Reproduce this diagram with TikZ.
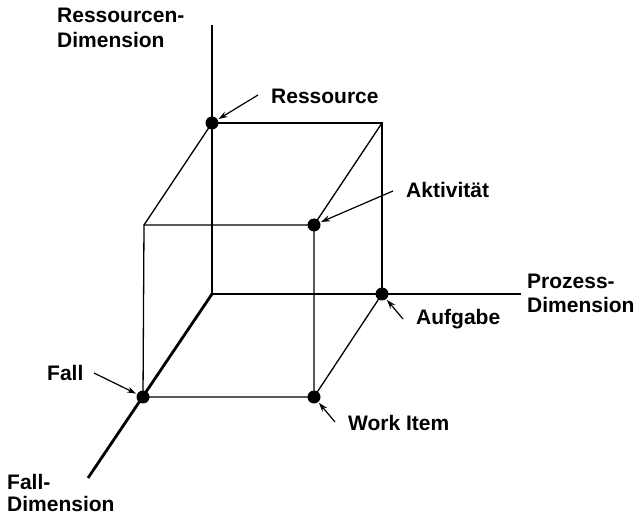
\documentclass[tikz,border=0pt]{standalone}
\usepackage{fontspec}
\setmainfont{Liberation Sans}
\usetikzlibrary{arrows.meta}
\begin{document}
\begin{tikzpicture}[x=1pt,y=-1pt,
  axis/.style={line width=2.8pt},
  edge/.style={line width=1.3pt},
  pointer/.style={line width=1.2pt,-{Stealth[length=9pt,width=6pt]},shorten >=1pt},
  dot/.style={circle,fill=black,inner sep=0pt,minimum size=13pt},
  lbl/.style={anchor=base west,inner sep=0pt,font=\bfseries\fontsize{21}{25}\selectfont}]
\useasboundingbox (0,0) rectangle (640,518);

% axis end points and cube corners
\coordinate (O) at (212,294);
\coordinate (ytop) at (212,25);
\coordinate (xend) at (521,294);
\coordinate (zend) at (88,478);
\coordinate (btr) at (382,123);
\coordinate (ftl) at (144,225);

% cube edges
\draw[edge] (212,123) -- (btr) -- (382,294);
\draw[edge] (212,123) -- (ftl);
\draw[edge] (btr) -- (314,225);
\draw[edge] (ftl) -- (314,225) -- (314,397) -- (143,397) -- cycle;
\draw[edge] (382,294) -- (314,397);

% axes
\draw[axis] (O) -- (ytop);
\draw[axis] (O) -- (xend);
\draw[axis] (O) -- (zend);

% marked points
\node[dot] (ressource) at (212,123) {};
\node[dot] (aktiv) at (314,225) {};
\node[dot] (aufgabe) at (382,294) {};
\node[dot] (fall) at (143,397) {};
\node[dot] (workitem) at (314,397) {};

% axis titles
\node[lbl] (rd1) at (57,23) {Ressourcen-};
\node[lbl] (rd2) at (57,48) {Dimension};
\node[lbl] (pd1) at (527,289) {Prozess-};
\node[lbl] (pd2) at (527,313) {Dimension};
\node[lbl] (fd1) at (7,489) {Fall-};
\node[lbl] (fd2) at (7,511) {Dimension};

% point labels
\node[lbl] (tRes) at (271,104) {Ressource};
\node[lbl] (tAkt) at (406,198) {Aktivität};
\node[lbl] (tAuf) at (416,325) {Aufgabe};
\node[lbl] (tFall) at (47,381) {Fall};
\node[lbl] (tWork) at (348,431) {Work Item};

% pointer tails
\coordinate (pRes) at (258,95);
\coordinate (pAkt) at (393,191);
\coordinate (pAuf) at (403,319);
\coordinate (pFall) at (94,373);
\coordinate (pWork) at (335,422);

\draw[pointer] (pRes) -- (ressource);
\draw[pointer] (pAkt) -- (aktiv);
\draw[pointer] (pAuf) -- (aufgabe);
\draw[pointer] (pFall) -- (fall);
\draw[pointer] (pWork) -- (workitem);
\end{tikzpicture}
\end{document}
